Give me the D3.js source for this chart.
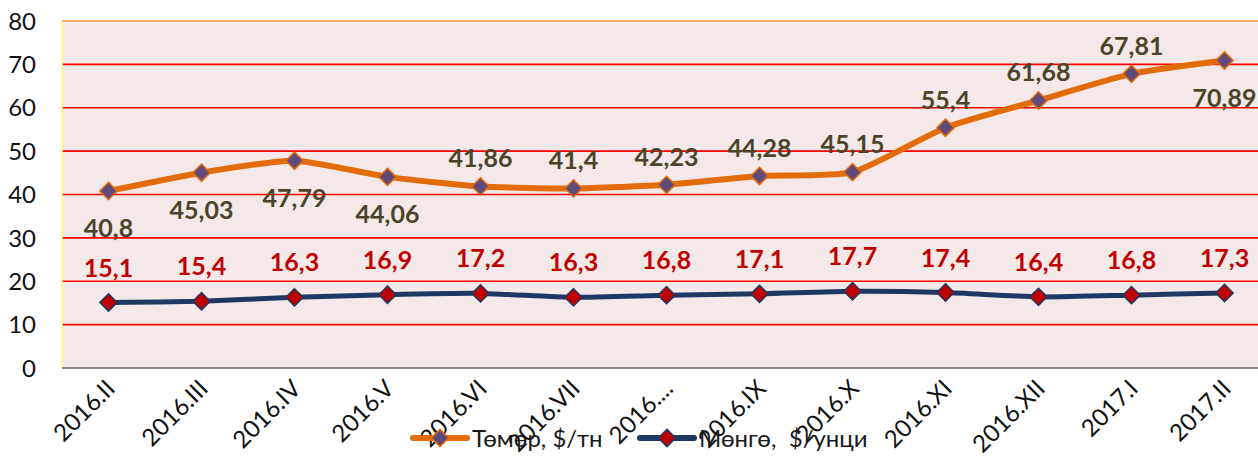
<!DOCTYPE html>
<html>
<head>
<meta charset="utf-8">
<script src="https://cdn.jsdelivr.net/npm/d3@7"></script>
<style>
  body { margin: 0; background: #fff; }
  #chart { width: 1258px; height: 464px; font-family: Lato, "Open Sans", sans-serif; }
</style>
</head>
<body>
<div id="chart"></div>
<script>
const months = ["2016.II", "2016.III", "2016.IV", "2016.V", "2016.VI", "2016.VII", "2016....",
    "2016.IX", "2016.X", "2016.XI", "2016.XII", "2017.I", "2017.II"];
const ironValues = [40.8, 45.03, 47.79, 44.06, 41.86, 41.4, 42.23, 44.28, 45.15, 55.4, 61.68, 67.81, 70.89];
const silverValues = [15.1, 15.4, 16.3, 16.9, 17.2, 16.3, 16.8, 17.1, 17.7, 17.4, 16.4, 16.8, 17.3];
// where Excel put each iron label
const ironLabelSide = ["below", "below", "below", "below", "above", "above", "above",
    "above", "above", "above", "above", "above", "below"];
const yTicks = [0, 10, 20, 30, 40, 50, 60, 70, 80];
const seriesNames = ["Төмөр, $/тн", "Мөнгө,  $/унци"];

const drawChart = function () {
    const node = document.querySelector("#chart");
    const width = 1258, height = 464;
    const margin = {top: 21, left: 62, bottom: 96};
    const step = 93;
    const innerWidth = step * months.length;
    const innerHeight = height - margin.top - margin.bottom;

    const svg = d3.select(node).append("svg")
        .attr("width", width)
        .attr("height", height);

    const g = svg.append("g")
        .attr("transform", "translate(" + margin.left + "," + margin.top + ")");

    const x = d3.scaleBand().domain(months).range([0, innerWidth]);
    const y = d3.scaleLinear().domain([0, 80]).range([innerHeight, 0]);
    const cx = d => x(d) + x.bandwidth() / 2;

    // plot area
    g.append("rect")
        .attr("width", innerWidth)
        .attr("height", innerHeight)
        .attr("fill", "#f4e9e8");

    g.selectAll(".grid")
        .data(yTicks.filter(t => t > 0))
        .enter()
        .append("line")
        .attr("x1", 0)
        .attr("x2", innerWidth)
        .attr("y1", d => y(d))
        .attr("y2", d => y(d))
        .attr("stroke", d => d === 80 ? "#f79646" : "#ff0000")
        .attr("stroke-width", 1.6);

    g.append("line")
        .attr("x1", 0).attr("x2", 0)
        .attr("y1", 0).attr("y2", innerHeight)
        .attr("stroke", "#ffff66")
        .attr("stroke-width", 1.6);

    g.append("line")
        .attr("x1", 0).attr("x2", innerWidth)
        .attr("y1", innerHeight).attr("y2", innerHeight)
        .attr("stroke", "#8c8a7c")
        .attr("stroke-width", 2);

    // y axis labels
    g.selectAll(".ytick")
        .data(yTicks)
        .enter()
        .append("text")
        .attr("x", -26)
        .attr("y", d => y(d))
        .attr("dy", "0.36em")
        .attr("text-anchor", "end")
        .style("font-size", "24px")
        .style("fill", "#111")
        .text(d => d);

    // x axis labels
    g.selectAll(".xtick")
        .data(months)
        .enter()
        .append("text")
        .attr("text-anchor", "end")
        .attr("transform", d => "translate(" + (cx(d) + 8) + "," + (innerHeight + 22) + ") rotate(-45)")
        .style("font-size", "24px")
        .style("fill", "#111")
        .text(d => d);

    const line = d3.line()
        .x((d, i) => cx(months[i]))
        .y(d => y(d))
        .curve(d3.curveCardinal.tension(0.4));

    const diamond = d3.symbol().type(d3.symbolDiamond2).size(190);

    // iron
    g.append("path")
        .datum(ironValues)
        .attr("fill", "none")
        .attr("stroke", "#e36c0a")
        .attr("stroke-width", 6)
        .attr("d", line);

    g.selectAll(".ironDot")
        .data(ironValues)
        .enter()
        .append("path")
        .attr("d", diamond)
        .attr("transform", (d, i) => "translate(" + cx(months[i]) + "," + y(d) + ")")
        .attr("fill", "#604a7b")
        .attr("stroke", "#e36c0a")
        .attr("stroke-width", 1.5);

    // silver
    g.append("path")
        .datum(silverValues)
        .attr("fill", "none")
        .attr("stroke", "#1f3864")
        .attr("stroke-width", 5)
        .attr("d", line);

    g.selectAll(".silverDot")
        .data(silverValues)
        .enter()
        .append("path")
        .attr("d", diamond)
        .attr("transform", (d, i) => "translate(" + cx(months[i]) + "," + y(d) + ")")
        .attr("fill", "#c00000")
        .attr("stroke", "#1f3864")
        .attr("stroke-width", 1.5);

    const fmt = v => String(v).replace(".", ",");

    g.selectAll(".ironLabel")
        .data(ironValues)
        .enter()
        .append("text")
        .attr("x", (d, i) => cx(months[i]))
        .attr("y", (d, i) => y(d) + (ironLabelSide[i] === "above" ? -28 : 37))
        .attr("dy", "0.36em")
        .attr("text-anchor", "middle")
        .style("font-size", "25px")
        .style("font-weight", "bold")
        .style("fill", "#4a452a")
        .text(fmt);

    g.selectAll(".silverLabel")
        .data(silverValues)
        .enter()
        .append("text")
        .attr("x", (d, i) => cx(months[i]))
        .attr("y", d => y(d) - 35)
        .attr("dy", "0.36em")
        .attr("text-anchor", "middle")
        .style("font-size", "25px")
        .style("font-weight", "bold")
        .style("fill", "#c00000")
        .text(fmt);

    // legend (drawn over the axis labels, as in the original)
    const legend = svg.append("g");
    const legendItems = [
        {name: seriesNames[0], stroke: "#e36c0a", fill: "#604a7b", x: 413},
        {name: seriesNames[1], stroke: "#1f3864", fill: "#c00000", x: 640}
    ];
    const li = legend.selectAll(".item")
        .data(legendItems)
        .enter()
        .append("g")
        .attr("transform", d => "translate(" + d.x + ",438)");
    li.append("line")
        .attr("x1", 0).attr("x2", 54)
        .attr("stroke", d => d.stroke)
        .attr("stroke-width", 6)
        .attr("stroke-linecap", "round");
    li.append("path")
        .attr("d", diamond)
        .attr("transform", "translate(27,0)")
        .attr("fill", d => d.fill)
        .attr("stroke", d => d.stroke)
        .attr("stroke-width", 1.5);
    li.append("text")
        .attr("x", 59)
        .attr("dy", "0.36em")
        .style("font-size", "24px")
        .style("fill", "#1a1a1a")
        .style("white-space", "pre")
        .text(d => d.name);
};

drawChart();
</script>
</body>
</html>
